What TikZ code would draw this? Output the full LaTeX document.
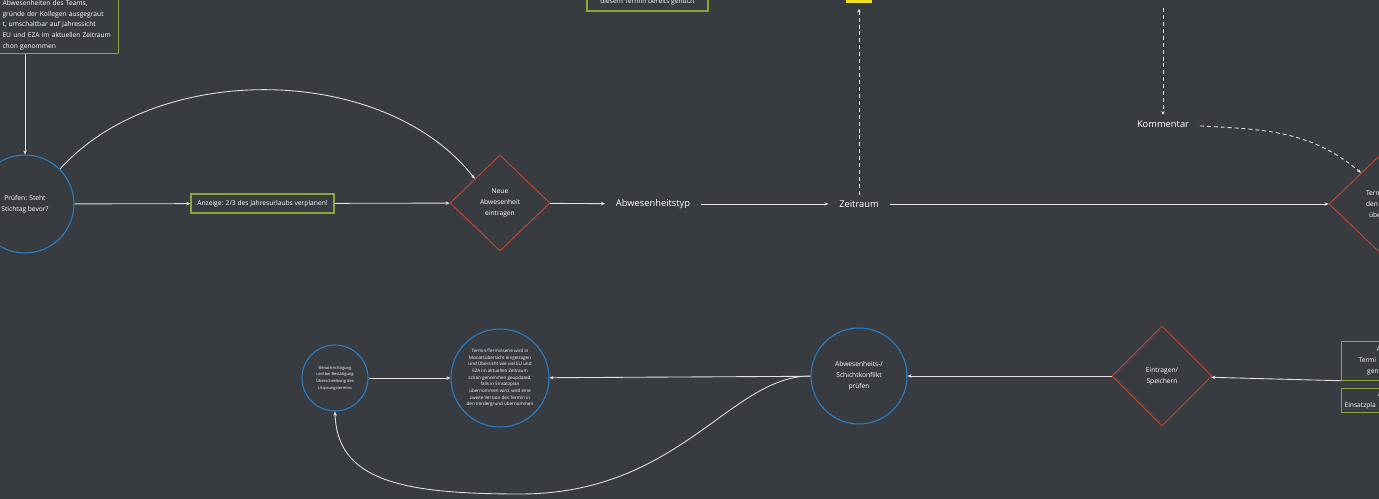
\documentclass[tikz,border=0pt]{standalone}
\usepackage{fontspec}
\setmainfont{Open Sans}
\usetikzlibrary{shapes.geometric,arrows.meta}
\definecolor{mmbg}{RGB}{56,59,63}
\definecolor{mmblue}{RGB}{40,128,200}
\definecolor{mmred}{RGB}{196,70,50}
\definecolor{mmgreen}{RGB}{140,165,55}
\definecolor{mmline}{RGB}{226,226,226}
\definecolor{mmyellow}{RGB}{240,226,30}
\begin{document}
\begin{tikzpicture}
[x=0.75pt,y=-0.75pt,
every node/.style={text=white, font=\fontsize{5}{8.2}\selectfont, inner sep=0pt, align=center},
check/.style={circle, draw=mmblue, line width=0.8pt},
entry/.style={diamond, draw=mmred, line width=0.7pt, minimum width=75pt, minimum height=72pt},
note/.style={draw=mmgreen, line width=0.8pt, inner sep=2.25pt},
field/.style={font=\fontsize{7}{8}\selectfont, inner xsep=8pt, inner ysep=4pt},
link/.style={draw=mmline, line width=0.65pt, -{Stealth[length=3pt,width=2.6pt]}},
dlink/.style={link, dash pattern=on 3pt off 2.2pt}]
\fill[mmbg] (0,0) rectangle (1379,499);
\clip (0,0) rectangle (1379,499);
% obere Reihe
\node[note, anchor=south west, text width=85pt, align=left, minimum height=42pt] (uebersicht) at (-1,54) {Abwesenheiten des Teams,\\gründe der Kollegen ausgegraut\\t, umschaltbar auf Jahressicht\\EU und EZA im aktuellen Zeitraum\\chon genommen};
\node[note, minimum width=90.75pt, minimum height=13.5pt] (genutzt) at (647.5,2) {diesem Termin bereits genutzt};
\node[fill=mmyellow, minimum width=19.5pt, minimum height=6pt] (gelb) at (859,-1) {};
\node[check, minimum size=73.5pt] (pruefen) at (25,204) {Prüfen: Steht\\Stichtag bevor?};
\node[note, minimum width=107.25pt, minimum height=14.25pt] (anzeige) at (262.5,203.5) {Anzeige: 2/3 des Jahresurlaubs verplanen!};
\node[entry] (neu) at (500,203) {Neue\\Abwesenheit\\eintragen};
\node[field] (typ) at (653,204) {Abwesenheitstyp};
\node[field] (zeit) at (859,204) {Zeitraum};
\node[field] (komm) at (1163,124) {Kommentar};
\coordinate (oben) at (1163,8);
\node[entry, align=left, text width=19.5pt] (termin) at (1379,204) {Term\\den\\\hspace*{2.25pt}übe};
% untere Reihe
\node[check, minimum size=49.5pt, font=\fontsize{3}{5}\selectfont] (benach) at (335,378) {Benachrichtigung\\und bei Bestätigung\\Überschreibung des\\Ursprungstermins};
\node[check, minimum size=73.5pt, font=\fontsize{3.4}{5}\selectfont] (serie) at (500,378) {Termin/Terminserie wird in\\Monatsübersicht eingetragen\\und Übersicht wie viel EU und\\EZA im aktuellen Zeitraum\\schon genommen geupdated,\\falls in Einsatzplan\\übernommen wird, wird eine\\zweite Version des Termin in\\den Vordergrund übernommen};
\node[check, minimum size=72pt] (konflikt) at (859,376) {Abwesenheits-/\\Schichtkonflikt\\prüfen};
\node[entry, minimum height=75pt] (speichern) at (1162,376) {Eintragen/\\Speichern};
\node[note, anchor=north west, text width=50pt, minimum height=29pt, align=left] (eintrag) at (1341,341) {\hspace*{24pt}A\\\hspace*{10.5pt}Termi\\\hspace*{17pt}gen};
\node[note, anchor=north west, text width=50pt, minimum height=18pt, align=left] (plan) at (1341,388) {\hspace*{25pt}a\\Einsatzpla};
% Verbindungen
\draw[link] (uebersicht.south -| pruefen) -- (pruefen);
\draw[link] (pruefen) -- (anzeige);
\draw[link] (anzeige) -- (neu);
\draw[link] (pruefen.45) to[out=48,in=128,looseness=0.9] (neu.north west);
\draw[link] (neu) -- (typ);
\draw[link] (typ) -- (zeit);
\draw[link] (zeit) -- (termin);
\draw[dlink] (zeit) -- ([yshift=-4pt]gelb.south);
\draw[dlink] (oben) -- (komm);
\draw[dlink] (komm) to[out=-3,in=140] (termin.120);
\draw[link] (eintrag.south west) -- (speichern);
\draw[link] (speichern) -- (konflikt);
\draw[link] (konflikt) -- (serie);
\draw[link] (benach) -- (serie);
\draw[link] (konflikt.west) .. controls (730,376) and (680,494) .. (520,494) .. controls (400,494) and (337,480) .. (benach.south);
\end{tikzpicture}
\end{document}
